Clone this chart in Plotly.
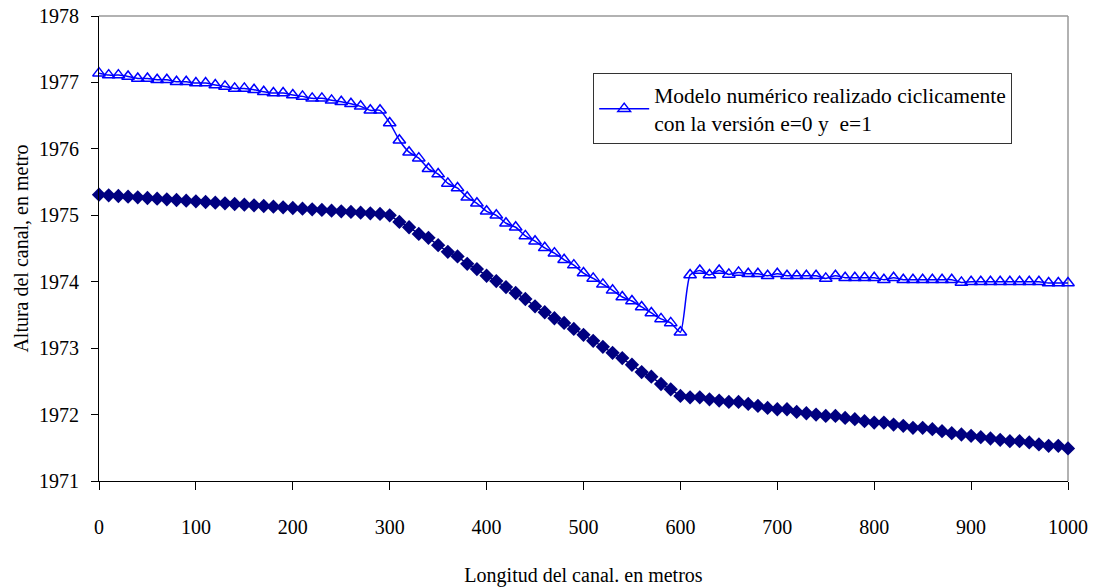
import plotly.graph_objects as go

distancia = [0, 10, 20, 30, 40, 50, 60, 70, 80, 90,
             100, 110, 120, 130, 140, 150, 160, 170, 180, 190,
             200, 210, 220, 230, 240, 250, 260, 270, 280, 290,
             300, 310, 320, 330, 340, 350, 360, 370, 380, 390,
             400, 410, 420, 430, 440, 450, 460, 470, 480, 490,
             500, 510, 520, 530, 540, 550, 560, 570, 580, 590,
             600, 610, 620, 630, 640, 650, 660, 670, 680, 690,
             700, 710, 720, 730, 740, 750, 760, 770, 780, 790,
             800, 810, 820, 830, 840, 850, 860, 870, 880, 890,
             900, 910, 920, 930, 940, 950, 960, 970, 980, 990,
             1000]

fondo = [1975.31, 1975.30, 1975.29, 1975.28, 1975.27, 1975.26, 1975.25, 1975.24, 1975.23, 1975.22,
         1975.21, 1975.20, 1975.19, 1975.18, 1975.17, 1975.16, 1975.15, 1975.14, 1975.13, 1975.12,
         1975.11, 1975.10, 1975.09, 1975.08, 1975.07, 1975.06, 1975.05, 1975.04, 1975.03, 1975.02,
         1975.00, 1974.90, 1974.82, 1974.72, 1974.66, 1974.55, 1974.45, 1974.38, 1974.27, 1974.19,
         1974.09, 1974.01, 1973.92, 1973.83, 1973.74, 1973.63, 1973.54, 1973.45, 1973.38, 1973.29,
         1973.20, 1973.11, 1973.02, 1972.93, 1972.85, 1972.75, 1972.64, 1972.57, 1972.46, 1972.38,
         1972.28, 1972.26, 1972.26, 1972.23, 1972.21, 1972.19, 1972.19, 1972.16, 1972.13, 1972.10,
         1972.08, 1972.08, 1972.04, 1972.02, 1972.00, 1971.98, 1971.98, 1971.95, 1971.93, 1971.90,
         1971.88, 1971.88, 1971.85, 1971.83, 1971.80, 1971.80, 1971.78, 1971.75, 1971.72, 1971.70,
         1971.68, 1971.66, 1971.64, 1971.62, 1971.60, 1971.60, 1971.58, 1971.55, 1971.53, 1971.53,
         1971.49]

superficie = [1977.14, 1977.11, 1977.11, 1977.09, 1977.06, 1977.06, 1977.04, 1977.04, 1977.01, 1977.01,
              1976.99, 1976.99, 1976.96, 1976.94, 1976.91, 1976.91, 1976.89, 1976.86, 1976.84, 1976.84,
              1976.81, 1976.79, 1976.76, 1976.76, 1976.73, 1976.71, 1976.68, 1976.64, 1976.58, 1976.58,
              1976.39, 1976.13, 1975.95, 1975.86, 1975.70, 1975.62, 1975.48, 1975.41, 1975.27, 1975.18,
              1975.06, 1975.00, 1974.88, 1974.82, 1974.69, 1974.61, 1974.51, 1974.43, 1974.33, 1974.25,
              1974.13, 1974.05, 1973.96, 1973.87, 1973.77, 1973.71, 1973.62, 1973.53, 1973.44, 1973.38,
              1973.24, 1974.10, 1974.17, 1974.10, 1974.17, 1974.11, 1974.14, 1974.12, 1974.12, 1974.09,
              1974.12, 1974.09, 1974.09, 1974.09, 1974.09, 1974.05, 1974.09, 1974.06, 1974.06, 1974.06,
              1974.06, 1974.03, 1974.06, 1974.03, 1974.03, 1974.03, 1974.03, 1974.03, 1974.03, 1973.99,
              1974.00, 1974.00, 1974.00, 1974.00, 1974.00, 1974.00, 1974.00, 1974.00, 1973.98, 1973.98,
              1973.98]

x_ticks = [0, 100, 200, 300, 400, 500, 600, 700, 800, 900, 1000]
y_ticks = [1971, 1972, 1973, 1974, 1975, 1976, 1977, 1978]

nombre_serie = "Modelo numérico realizado ciclicamente<br>con la versión e=0 y  e=1"
titulo_x = "Longitud del canal. en metros"
titulo_y = "Altura del canal, en metro"

FONT = "Liberation Serif, Times New Roman, serif"

fig = go.Figure()

fig.add_trace(go.Scatter(
    x=distancia, y=fondo, mode="lines+markers",
    line=dict(color="#000080", width=1.5),
    marker=dict(symbol="diamond", size=11, color="#000080"),
    showlegend=False, cliponaxis=False,
))

fig.add_trace(go.Scatter(
    x=distancia, y=superficie, mode="lines+markers",
    name=nombre_serie,
    line=dict(color="#0000FF", width=1.5, shape="spline", smoothing=0.6),
    marker=dict(symbol="triangle-up-open", size=11, color="#0000FF",
                line=dict(width=1.5, color="#0000FF")),
    cliponaxis=False,
))

fig.update_layout(
    width=1094, height=588,
    margin=dict(l=99, r=26, t=16, b=107, autoexpand=False),
    paper_bgcolor="white", plot_bgcolor="white",
    font=dict(family=FONT, size=20, color="black"),
    legend=dict(
        x=0.51, y=0.877, xanchor="left", yanchor="top",
        bordercolor="#333333", borderwidth=1, bgcolor="white",
        font=dict(family=FONT, size=21.5, color="black"),
        itemwidth=50,
    ),
    shapes=[
        dict(type="line", xref="paper", yref="paper", x0=0, x1=1, y0=1, y1=1,
             line=dict(color="#999999", width=1.5), layer="below"),
        dict(type="line", xref="paper", yref="paper", x0=1, x1=1, y0=0, y1=1,
             line=dict(color="#999999", width=1.5), layer="below"),
    ],
)

fig.update_xaxes(
    range=[0, 1000], tickvals=x_ticks, ticktext=[str(v) for v in x_ticks],
    automargin=False, ticklabeloverflow="allow",
    showgrid=False, zeroline=False,
    showline=True, linecolor="black", linewidth=1.2,
    ticks="outside", ticklen=8, tickcolor="black", tickwidth=1.2,
    ticklabelstandoff=20,
    tickfont=dict(family=FONT, size=20),
    title=dict(text=titulo_x, font=dict(family=FONT, size=20), standoff=30),
)

fig.update_yaxes(
    range=[1971, 1978], tickvals=y_ticks, ticktext=[str(v) for v in y_ticks],
    automargin=False, ticklabeloverflow="allow",
    showgrid=False, zeroline=False,
    showline=True, linecolor="black", linewidth=1.2,
    ticks="outside", ticklen=7, tickcolor="black", tickwidth=1.2,
    ticklabelstandoff=8,
    tickfont=dict(family=FONT, size=20),
    title=dict(text=titulo_y, font=dict(family=FONT, size=20), standoff=4),
)

# remove the default 8px page margin so the figure fills the window exactly
fig.write_html("out.html",
               config={"displayModeBar": False},
               post_script="document.body.style.margin='0';document.body.style.overflow='hidden';")
